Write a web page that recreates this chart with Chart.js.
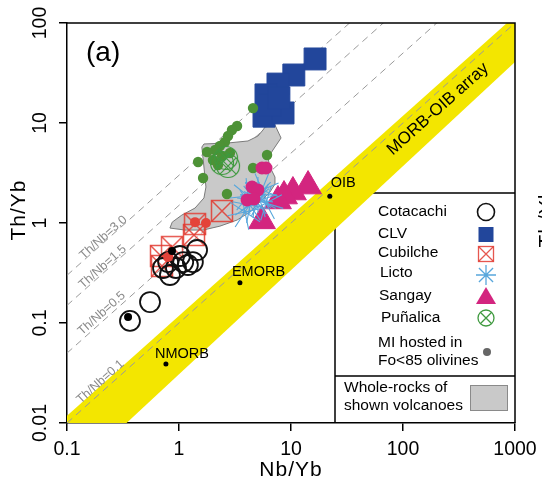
<!DOCTYPE html>
<html>
<head>
<meta charset="utf-8">
<script src="https://cdn.jsdelivr.net/npm/chart.js@4.4.1/dist/chart.umd.min.js"></script>
<style>
html, body { margin:0; padding:0; background:#fff; overflow:hidden; }
canvas { display:block; }
</style>
</head>
<body>
<canvas id="chart" width="542" height="483"></canvas>
<script>
// ---------- axes ----------
const xTickValues = [0.1, 1, 10, 100, 1000];
const xTickLabels = ['0.1', '1', '10', '100', '1000'];
const yTickValues = [0.01, 0.1, 1, 10, 100];
const yTickLabels = ['0.01', '0.1', '1', '10', '100'];
const xTitle = 'Nb/Yb';
const yTitle = 'Th/Yb';
const panelLabel = '(a)';

// ---------- series: Nb/Yb (x) and Th/Yb (y) ----------
const cotacachiNb = [0.365, 0.551, 0.83, 0.80, 0.94, 1.09, 1.20, 1.33, 1.02, 1.45, 0.72];
const cotacachiTh = [0.105, 0.162, 0.302, 0.407, 0.355, 0.407, 0.38, 0.407, 0.468, 0.537, 0.355];

const clvNb = [16.4, 10.6, 7.65, 5.98, 5.74, 8.49, 6.49, 7.8];
const clvTh = [43.7, 30.2, 24.5, 19.1, 11.7, 12.6, 15.1, 17.8];

const cubilcheNb = [2.42, 1.39, 1.36, 0.866, 0.69, 0.705];
const cubilcheTh = [1.32, 0.977, 0.759, 0.575, 0.468, 0.372];

const lictoNb = [5.07, 4.31, 5.51, 3.88, 4.77, 5.98, 5.28, 4.13];
const lictoTh = [1.91, 1.51, 2.14, 1.29, 1.70, 1.58, 1.70, 1.86];

const sangayNb = [14.2, 10.4, 8.66, 7.65, 5.51];
const sangayTh = [2.34, 2.04, 1.86, 1.66, 1.05];

const punalicaNb = [2.42, 2.74, 2.63];
const punalicaTh = [3.98, 3.72, 4.47];

// melt inclusions hosted in Fo<85 olivines (coloured per volcano)
const miPunalicaNb = [4.58, 3.30, 2.97, 2.74, 2.57, 2.32, 2.10, 1.78, 2.42, 2.85, 2.01, 2.23, 1.48, 1.64, 6.11, 4.58, 2.68];
const miPunalicaTh = [14.1, 9.33, 8.51, 7.41, 6.46, 5.89, 5.37, 5.13, 4.68, 5.01, 4.27, 3.80, 4.07, 2.82, 4.79, 3.55, 1.95];
const miSangayNb = [5.51, 5.98, 4.49, 5.07, 4.05, 4.68];
const miSangayTh = [3.55, 3.55, 2.29, 2.14, 1.70, 1.74];
const miCubilcheNb = [1.39, 1.74, 0.80];
const miCubilcheTh = [1.02, 1.00, 0.457];
const miCotacachiNb = [0.351, 0.866];
const miCotacachiTh = [0.115, 0.525];

// whole-rock field outline (starts at leftmost tip, ends at rightmost point)
const wrLowerNb = [0.83, 1.13, 1.64, 2.32, 3.30, 4.30, 5.28, 6.49, 7.19, 7.19, 6.49, 6.23, 6.90, 8.15];
const wrLowerTh = [0.89, 0.85, 0.85, 0.93, 1.07, 1.29, 1.62, 2.04, 2.45, 2.88, 3.63, 4.47, 5.37, 7.08];
const wrUpperNb = [7.19, 5.86, 5.62, 5.07, 4.13, 2.74, 1.67, 1.60, 1.67, 1.74, 1.67, 1.39, 1.06, 0.87];
const wrUpperTh = [9.55, 9.12, 8.51, 7.41, 6.61, 6.31, 6.17, 5.75, 3.63, 2.29, 1.78, 1.41, 1.20, 1.02];

// MORB-OIB array band corners
const bandNb = [0.05, 0.2, 2000, 2000];
const bandTh = [0.0059, 0.00575, 84, 236];

// reference compositions
const refNames = ['NMORB', 'EMORB', 'OIB'];
const refNb = [0.764, 3.5, 22.2];
const refTh = [0.039, 0.253, 1.85];

// Th/Nb reference lines
const thNbRatios = [3.0, 1.5, 0.5, 0.1];
const thNbLabels = ['Th/Nb=3.0', 'Th/Nb=1.5', 'Th/Nb=0.5', 'Th/Nb=0.1'];

// legend
const legendNames = ['Cotacachi', 'CLV', 'Cubilche', 'Licto', 'Sangay', 'Puñalica'];
const legendMI = ['MI hosted in', 'Fo<85 olivines'];
const legendWR = ['Whole-rocks of', 'shown volcanoes'];

// ---------- styling ----------
const FONT = '"Liberation Sans", Arial, Helvetica, sans-serif';
const C = {
  black: '#111111', navy: '#22469b', red: 'rgba(226,58,48,0.85)', blue: '#58a7dc',
  magenta: '#d3257f', green: '#3f9a3f', greenDot: '#4d9236', yellow: '#f3e600',
  wrFill: '#c9c9c9', wrLine: '#7a7a7a', dash: '#9a9a9a', miGray: '#666666'
};

function pts(xs, ys) { return xs.map((x, i) => ({ x: x, y: ys[i] })); }

function boxX(side, color, lw) {
  const s = Math.ceil(side + lw * 2 + 2);
  const c = document.createElement('canvas'); c.width = s; c.height = s;
  const g = c.getContext('2d');
  const o = (s - side) / 2;
  g.strokeStyle = color; g.lineWidth = lw;
  g.strokeRect(o, o, side, side);
  g.beginPath(); g.moveTo(o, o); g.lineTo(o + side, o + side);
  g.moveTo(o + side, o); g.lineTo(o, o + side); g.stroke();
  return c;
}
function circX(r, color, lw) {
  const s = Math.ceil(2 * r + lw * 2 + 2);
  const c = document.createElement('canvas'); c.width = s; c.height = s;
  const g = c.getContext('2d');
  const m = s / 2, d = r * Math.SQRT1_2;
  g.strokeStyle = color; g.lineWidth = lw;
  g.beginPath(); g.arc(m, m, r, 0, Math.PI * 2); g.stroke();
  g.beginPath(); g.moveTo(m - d, m - d); g.lineTo(m + d, m + d);
  g.moveTo(m + d, m - d); g.lineTo(m - d, m + d); g.stroke();
  return c;
}

const lineDatasets = thNbRatios.map(r => ({
  type: 'line',
  data: [
    { x: xTickValues[0], y: r * xTickValues[0] },
    { x: xTickValues[xTickValues.length - 1], y: r * xTickValues[xTickValues.length - 1] }
  ],
  borderColor: C.dash, borderWidth: 1, borderDash: [7, 5],
  pointRadius: 0, fill: false, order: 29
}));

const wrFillData = pts(
  wrLowerNb.concat(wrUpperNb, [wrLowerNb[0], wrLowerNb[wrLowerNb.length - 1]]),
  wrLowerTh.concat(wrUpperTh, [wrLowerTh[0], wrLowerTh[wrLowerTh.length - 1]])
);
const wrLineData = pts(
  wrLowerNb.concat(wrUpperNb, [wrLowerNb[0]]),
  wrLowerTh.concat(wrUpperTh, [wrLowerTh[0]])
);

const datasets = [
  { type: 'line', data: pts(bandNb, bandTh), fill: 'shape', backgroundColor: C.yellow,
    borderColor: 'rgba(0,0,0,0)', borderWidth: 0, pointRadius: 0, order: 30 },
  ...lineDatasets,
  { type: 'line', data: wrFillData, fill: 'shape', backgroundColor: C.wrFill,
    borderColor: 'rgba(0,0,0,0)', borderWidth: 0, pointRadius: 0, order: 28 },
  { type: 'line', data: wrLineData, fill: false, borderColor: C.wrLine, borderWidth: 1,
    pointRadius: 0, order: 27 },
  { label: 'Cubilche', data: pts(cubilcheNb, cubilcheTh), pointStyle: boxX(21, C.red, 1.5),
    pointRadius: 11, order: 20 },
  { label: 'Cotacachi', data: pts(cotacachiNb, cotacachiTh), pointStyle: 'circle', pointRadius: 10,
    backgroundColor: 'rgba(0,0,0,0)', borderColor: C.black, borderWidth: 1.8, order: 19 },
  { label: 'CLV', data: pts(clvNb, clvTh), pointStyle: 'rect', pointRadius: 15.5,
    backgroundColor: C.navy, borderColor: C.navy, borderWidth: 1, order: 18 },
  { label: 'MI Puñalica', data: pts(miPunalicaNb, miPunalicaTh), pointStyle: 'circle', pointRadius: 5.2,
    backgroundColor: C.greenDot, borderColor: C.greenDot, borderWidth: 0, order: 17 },
  { label: 'Puñalica', data: pts(punalicaNb, punalicaTh), pointStyle: circX(11.5, C.green, 1.2),
    pointRadius: 12, order: 16 },
  { label: 'Sangay', data: pts(sangayNb, sangayTh), pointStyle: 'triangle', pointRadius: 15.5,
    backgroundColor: C.magenta, borderColor: C.magenta, borderWidth: 1, order: 15 },
  { label: 'Licto', data: pts(lictoNb, lictoTh), pointStyle: 'star', pointRadius: 18,
    pointRotation: [0, 11, 22, 33, 6, 17, 28, 39], backgroundColor: C.blue, borderColor: C.blue,
    borderWidth: 1.1, order: 14 },
  { label: 'MI Sangay', data: pts(miSangayNb, miSangayTh), pointStyle: 'circle', pointRadius: 6.5,
    backgroundColor: C.magenta, borderColor: C.magenta, borderWidth: 0, order: 13 },
  { label: 'MI Cubilche', data: pts(miCubilcheNb, miCubilcheTh), pointStyle: 'circle', pointRadius: 5,
    backgroundColor: '#e4433a', borderColor: '#e4433a', borderWidth: 0, order: 12 },
  { label: 'MI Cotacachi', data: pts(miCotacachiNb, miCotacachiTh), pointStyle: 'circle', pointRadius: 4,
    backgroundColor: '#000', borderColor: '#000', borderWidth: 0, order: 11 },
  { label: 'refs', data: pts(refNb, refTh), pointStyle: 'circle', pointRadius: 2.5,
    backgroundColor: '#000', borderColor: '#000', borderWidth: 0, order: 10 }
];

const deco = {
  id: 'deco',
  beforeDatasetsDraw(chart) {
    const { ctx, chartArea: a } = chart;
    ctx.save();
    ctx.strokeStyle = '#000'; ctx.lineWidth = 1.5;
    ctx.beginPath();
    ctx.moveTo(335, a.bottom); ctx.lineTo(335, 193); ctx.lineTo(a.right, 193);
    ctx.moveTo(335, 376); ctx.lineTo(a.right, 376);
    ctx.stroke();
    ctx.restore();
  },
  afterDatasetsDraw(chart) {
    const { ctx, chartArea: a } = chart;
    const xs = chart.scales.x, ys = chart.scales.y;
    ctx.save();
    // frame top/right
    ctx.strokeStyle = '#000'; ctx.lineWidth = 1.5;
    ctx.beginPath();
    ctx.moveTo(a.left, a.top); ctx.lineTo(a.right, a.top); ctx.lineTo(a.right, a.bottom);
    ctx.stroke();

    // Th/Nb labels along dashed lines
    ctx.fillStyle = '#8a8a8a';
    ctx.font = '12.5px ' + FONT;
    ctx.textAlign = 'center'; ctx.textBaseline = 'alphabetic';
    const lblOffsets = [0.5, 1.5, 3, 5];
    thNbRatios.forEach((r, i) => {
      const xv = xs.getValueForPixel(106);
      const px = xs.getPixelForValue(xv), py = ys.getPixelForValue(r * xv);
      const ang = Math.atan2(ys.getPixelForValue(r * xv * 10) - py, xs.getPixelForValue(xv * 10) - px);
      ctx.save(); ctx.translate(px, py); ctx.rotate(ang);
      ctx.fillText(thNbLabels[i], 0, -lblOffsets[i]);
      ctx.restore();
    });

    // MORB-OIB array label
    {
      const xv = 205;
      const yv = Math.sqrt(xv * 0.118 * 7.86);
      const px = xs.getPixelForValue(xv), py = ys.getPixelForValue(yv);
      const ang = Math.atan2(ys.getPixelForValue(yv * 10) - py, xs.getPixelForValue(xv * 10) - px);
      ctx.save(); ctx.translate(px, py); ctx.rotate(ang);
      ctx.fillStyle = '#000'; ctx.font = '17px ' + FONT;
      ctx.textAlign = 'center'; ctx.textBaseline = 'middle';
      ctx.fillText('MORB-OIB array', 0, 0);
      ctx.restore();
    }

    // reference labels
    ctx.fillStyle = '#000'; ctx.font = '14.5px ' + FONT;
    ctx.textAlign = 'left'; ctx.textBaseline = 'alphabetic';
    const refOff = [[-11, -6], [-8, -7], [1, -9]];
    refNames.forEach((n, i) => {
      const px = xs.getPixelForValue(refNb[i]), py = ys.getPixelForValue(refTh[i]);
      ctx.fillText(n, px + refOff[i][0], py + refOff[i][1]);
    });

    // panel label
    ctx.font = '28px ' + FONT;
    ctx.fillText(panelLabel, 86, 61);

    // legend
    ctx.font = '15.5px ' + FONT;
    ctx.textBaseline = 'middle';
    const rowsY = [212, 234, 253, 273, 296, 318];
    const rowsX = [378, 378, 378, 380, 379, 381];
    legendNames.forEach((n, i) => ctx.fillText(n, rowsX[i], rowsY[i]));
    ctx.fillText(legendMI[0], 378, 343);
    ctx.fillText(legendMI[1], 378, 361);
    ctx.fillText(legendWR[0], 344, 388);
    ctx.fillText(legendWR[1], 344, 406);

    const mx = 486;
    // Cotacachi
    ctx.strokeStyle = C.black; ctx.lineWidth = 1.6;
    ctx.beginPath(); ctx.arc(mx, 212, 8.5, 0, Math.PI * 2); ctx.stroke();
    // CLV
    ctx.fillStyle = C.navy; ctx.fillRect(mx - 7.5, 227, 15, 15);
    // Cubilche
    ctx.strokeStyle = C.red; ctx.lineWidth = 1.3;
    ctx.strokeRect(mx - 7.5, 246.5, 15, 15);
    ctx.beginPath(); ctx.moveTo(mx - 7.5, 246.5); ctx.lineTo(mx + 7.5, 261.5);
    ctx.moveTo(mx + 7.5, 246.5); ctx.lineTo(mx - 7.5, 261.5); ctx.stroke();
    // Licto
    ctx.strokeStyle = C.blue; ctx.lineWidth = 1.3;
    ctx.beginPath();
    for (let k = 0; k < 4; k++) {
      const t = k * Math.PI / 4, r = 10;
      ctx.moveTo(mx + r * Math.cos(t), 275 + r * Math.sin(t));
      ctx.lineTo(mx - r * Math.cos(t), 275 - r * Math.sin(t));
    }
    ctx.stroke();
    // Sangay
    ctx.fillStyle = C.magenta;
    ctx.beginPath(); ctx.moveTo(mx, 287); ctx.lineTo(mx + 10, 304); ctx.lineTo(mx - 10, 304); ctx.closePath(); ctx.fill();
    // Puñalica
    ctx.strokeStyle = C.green; ctx.lineWidth = 1.3;
    ctx.beginPath(); ctx.arc(mx, 318, 8, 0, Math.PI * 2); ctx.stroke();
    ctx.beginPath();
    ctx.moveTo(mx - 5.7, 312.3); ctx.lineTo(mx + 5.7, 323.7);
    ctx.moveTo(mx + 5.7, 312.3); ctx.lineTo(mx - 5.7, 323.7); ctx.stroke();
    // MI
    ctx.fillStyle = C.miGray;
    ctx.beginPath(); ctx.arc(mx + 1, 352, 4, 0, Math.PI * 2); ctx.fill();
    // whole-rock swatch
    ctx.fillStyle = C.wrFill; ctx.fillRect(470, 385, 38, 26);
    ctx.strokeStyle = '#8a8a8a'; ctx.lineWidth = 1; ctx.strokeRect(470.5, 385.5, 37, 25);
    ctx.restore();
  },
  afterDraw(chart) {
    const { ctx } = chart;
    const xs = chart.scales.x, ys = chart.scales.y;
    ctx.save();
    ctx.fillStyle = '#000';
    ctx.font = '19.5px ' + FONT;
    ctx.textAlign = 'center'; ctx.textBaseline = 'alphabetic';
    xTickValues.forEach((v, i) => ctx.fillText(xTickLabels[i], xs.getPixelForValue(v), 455));
    yTickValues.forEach((v, i) => {
      ctx.save(); ctx.translate(46, ys.getPixelForValue(v)); ctx.rotate(-Math.PI / 2);
      ctx.fillText(yTickLabels[i], 0, 0); ctx.restore();
    });
    ctx.font = '21px ' + FONT;
    try { ctx.letterSpacing = '1px'; } catch (e) {}
    ctx.fillText(xTitle, (xs.left + xs.right) / 2, 476);
    ctx.save(); ctx.translate(25, 210); ctx.rotate(-Math.PI / 2);
    ctx.fillText(yTitle, 0, 0); ctx.restore();
    // cut-off label of the neighbouring panel
    ctx.save(); ctx.translate(553, 217); ctx.rotate(-Math.PI / 2);
    ctx.fillText(yTitle, 0, 0); ctx.restore();
    ctx.restore();
  }
};

const axisCommon = {
  type: 'logarithmic',
  ticks: { display: false },
  grid: { display: true, drawOnChartArea: false, drawTicks: true, tickLength: 8, color: '#000', lineWidth: 1.5 },
  border: { display: true, color: '#000', width: 1.5 }
};

new Chart(document.getElementById('chart').getContext('2d'), {
  type: 'scatter',
  data: { datasets: datasets },
  options: {
    responsive: false,
    animation: false,
    events: [],
    layout: { padding: { left: 0, right: 27, top: 23, bottom: 0 } },
    plugins: { legend: { display: false }, tooltip: { enabled: false } },
    scales: {
      x: Object.assign({}, axisCommon, {
        position: 'bottom',
        min: xTickValues[0], max: xTickValues[xTickValues.length - 1],
        afterBuildTicks: s => { s.ticks = xTickValues.map(v => ({ value: v, major: true })); },
        afterFit: s => { s.height = 60; }
      }),
      y: Object.assign({}, axisCommon, {
        position: 'left',
        min: yTickValues[0], max: yTickValues[yTickValues.length - 1],
        afterBuildTicks: s => { s.ticks = yTickValues.map(v => ({ value: v, major: true })); },
        afterFit: s => { s.width = 67; }
      })
    }
  },
  plugins: [deco]
});
</script>
</body>
</html>
